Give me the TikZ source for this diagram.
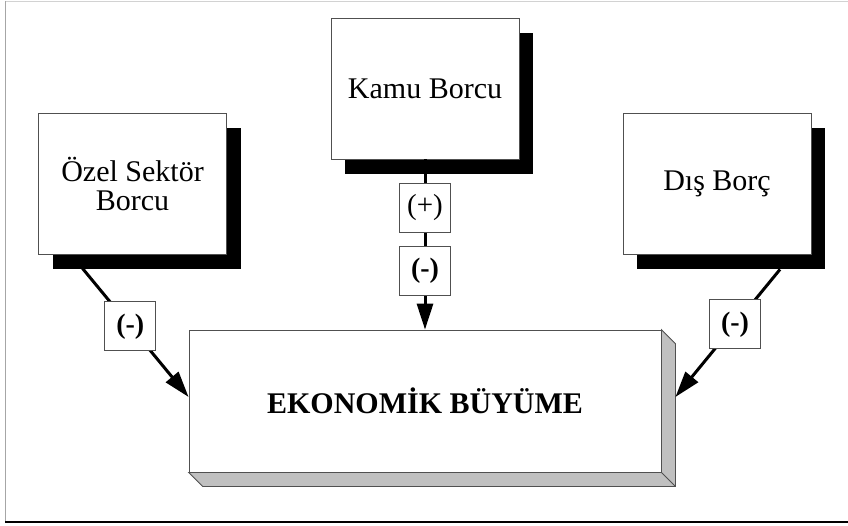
\documentclass[tikz,border=0pt]{standalone}
\usepackage{fontspec}
\setmainfont{Liberation Serif}
\usetikzlibrary{shadows, arrows.meta}
\definecolor{depthGray}{RGB}{192, 192, 192}
\definecolor{edgeGray}{RGB}{80, 80, 80}

\begin{document}
\begin{tikzpicture}
    [
		x=1pt, y=-1pt,
		debt/.style={
			draw=edgeGray, line width=0.8pt, rectangle, align=center, fill=white,
			minimum width=188pt, minimum height=141pt, inner sep=0pt,
			font=\fontsize{30}{29}\selectfont,
			drop shadow={shadow xshift=14pt, shadow yshift=-15pt, fill=black, opacity=1}
		},
		growth/.style={
			draw=edgeGray, line width=0.8pt, rectangle, align=center, fill=white,
			minimum width=472pt, minimum height=142pt, inner sep=0pt,
			font=\fontsize{30}{29}\selectfont\bfseries
		},
		sign/.style={
			draw=edgeGray, line width=0.6pt, rectangle, fill=white,
			minimum width=51pt, minimum height=49pt, inner sep=0pt,
			font=\fontsize{28}{28}\selectfont\bfseries
		},
		effect/.style={
			line width=3pt, -{Triangle[length=26pt, width=16pt]}
		}
	]
\useasboundingbox (0,0) rectangle (848,526);

% Frame
\draw [gray!35, line width=0.8pt] (5,1) -- (850,1);
\draw [gray!70, line width=0.8pt] (5,1) -- (5,522);
\draw [black, line width=1.2pt] (5,522) -- (850,522);

% Nodes
\node (ozel) [debt] at (132.5,183.5) {Özel Sektör\\Borcu};
\node (kamu) [debt] at (425,88.5) {Kamu Borcu};
\node (dis) [debt] at (717,183.5) {Dış Borç};
\node (eko) [growth] at (425,401) {EKONOMİK BÜYÜME};

% Depth of the growth box
\filldraw [fill=depthGray, draw=edgeGray, line width=0.8pt]
	(eko.north east) -- ++(14,14) -- ([shift={(14,14)}]eko.south east)
	-- ([shift={(14,14)}]eko.south west) -- (eko.south west)
	-- (eko.south east) -- cycle;
\draw [edgeGray, line width=0.8pt] (eko.south east) -- ++(14,14);

% Effects
\draw [effect] ([xshift=-50pt, yshift=-14pt]ozel.south) -- ([yshift=4pt]eko.west)
	node [sign, pos=0.45] {(-)};

\draw [effect] (kamu.south) -- (eko.north)
	node [sign, pos=0.284, font=\fontsize{29}{29}\selectfont] {(+)}
	node [sign, pos=0.655] {(-)};

\draw [effect] ([xshift=63pt, yshift=-15pt]dis.south) -- ([xshift=14pt, yshift=4pt]eko.east)
	node [sign, pos=0.43] {(-)};

\end{tikzpicture}
\end{document}
